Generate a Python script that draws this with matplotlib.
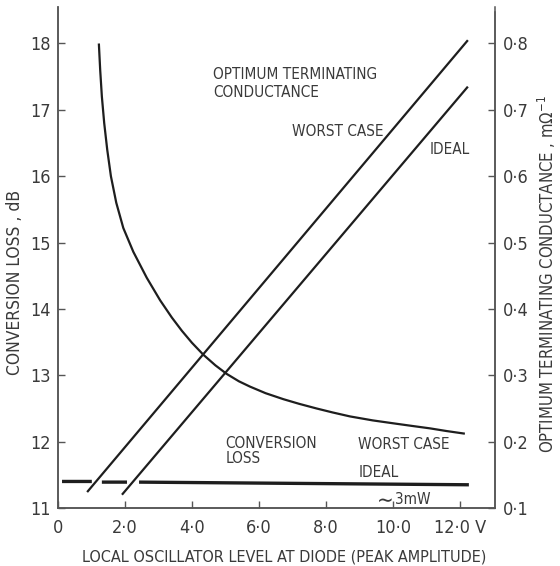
import matplotlib
matplotlib.use("Agg")
import matplotlib.pyplot as plt
import numpy as np

# conversion loss, worst case (dB) vs LO level (V)
cl_worst_x = [1.22, 1.26, 1.31, 1.38, 1.47, 1.58, 1.74, 1.95, 2.25, 2.65, 3.05, 3.40,
              3.70, 4.00, 4.34, 4.70, 5.04, 5.40, 5.73, 6.20, 6.73, 7.20, 7.72, 8.20,
              8.72, 9.40, 10.10, 10.60, 11.11, 11.60, 12.15]
cl_worst = [18.00, 17.60, 17.20, 16.80, 16.40, 16.00, 15.60, 15.22, 14.86, 14.47, 14.13, 13.87,
            13.67, 13.49, 13.31, 13.15, 13.02, 12.91, 12.83, 12.73, 12.64, 12.57, 12.50, 12.44,
            12.38, 12.32, 12.27, 12.235, 12.20, 12.16, 12.12]

# conversion loss, ideal (broken where the conductance lines cross it)
cl_ideal_x = [0.12, 1.01, np.nan, 1.31, 2.06, np.nan, 2.42, 12.27]
cl_ideal = [11.40, 11.40, np.nan, 11.39, 11.39, np.nan, 11.39, 11.35]

# optimum terminating conductance (mS)
g_worst_x = [0.87, 12.24]
g_worst = [0.124, 0.805]
g_ideal_x = [1.91, 12.24]
g_ideal = [0.120, 0.735]

x_ticks = [0, 2, 4, 6, 8, 10, 12]
x_labels = ["0", "2·0", "4·0", "6·0", "8·0", "10·0", "12·0 V"]
left_ticks = [11, 12, 13, 14, 15, 16, 17, 18]
right_ticks = [0.1, 0.2, 0.3, 0.4, 0.5, 0.6, 0.7, 0.8]
right_labels = ["0·1", "0·2", "0·3", "0·4", "0·5", "0·6", "0·7", "0·8"]

plt.rcParams['font.family'] = ['DejaVu Sans']
plt.rcParams['font.stretch'] = 'condensed'
ink = '#1e1e1e'
txt = '#3a3a3a'

fig = plt.figure(figsize=(5.6, 5.66), dpi=100)
W, H = 560, 566
AW, AH = 437, 501
ax = fig.add_axes([58 / W, (H - 508) / H, AW / W, AH / H])
ax2 = ax.twinx()

ax.plot(cl_worst_x, cl_worst, color=ink, lw=1.6, solid_capstyle='butt')
ax.plot(cl_ideal_x, cl_ideal, color=ink, lw=2.4, solid_capstyle='butt')
ax2.plot(g_worst_x, g_worst, color=ink, lw=1.6, solid_capstyle='butt')
ax2.plot(g_ideal_x, g_ideal, color=ink, lw=1.6, solid_capstyle='butt')

ax.set_xlim(0, 13.05)
ax.set_ylim(11, 18.55)
ax2.set_ylim(0.1, 0.855)

ax.set_xticks(x_ticks)
ax.set_xticklabels(x_labels)
ax.set_yticks(left_ticks)
ax.set_yticklabels([str(v) for v in left_ticks])
ax2.set_yticks(right_ticks)
ax2.set_yticklabels(right_labels)

for a in (ax, ax2):
    a.spines['top'].set_visible(False)
    for s in a.spines.values():
        s.set_color('#555')
        s.set_linewidth(1.1)
    a.tick_params(direction='in', length=5, width=1, color='#555',
                  labelsize=13, labelcolor=txt)
ax2.spines['right'].set_bounds(0.1, 0.848)
ax.tick_params(axis='y', pad=5)
ax.tick_params(axis='x', pad=8)
ax2.tick_params(axis='y', pad=6)

fs = 11
ax.text(4.63, 17.40, "OPTIMUM TERMINATING\nCONDUCTANCE", fontsize=fs, color=txt,
        va='center', ha='left', linespacing=1.25)
ax.text(7.0, 16.67, "WORST CASE", fontsize=fs, color=txt, va='center')
ax.text(11.11, 16.40, "IDEAL", fontsize=fs, color=txt, va='center')
ax.text(5.0, 11.86, "CONVERSION\nLOSS", fontsize=fs, color=txt, va='center',
        linespacing=1.0)
ax.text(8.95, 11.95, "WORST CASE", fontsize=fs, color=txt, va='center')
ax.text(8.98, 11.53, "IDEAL", fontsize=fs, color=txt, va='center')
ax.text(9.52, 11.10, "∼", fontsize=16, color=txt, va='center')
ax.text(10.05, 11.13, "3mW", fontsize=fs, color=txt, va='center')

ax.set_ylabel("CONVERSION LOSS , dB", fontsize=12.5, color=txt)
ax.yaxis.set_label_coords(-(58 - 24) / AW, (508 - 282) / AH)
ax2.set_ylabel("OPTIMUM TERMINATING CONDUCTANCE , m$\\Omega^{-1}$", fontsize=12,
               color=txt, rotation=90)
ax2.yaxis.set_label_coords((536 - 58) / AW, (508 - 274) / AH)
ax.set_xlabel("LOCAL OSCILLATOR LEVEL AT DIODE (PEAK AMPLITUDE)", fontsize=11.6,
              color=txt)
ax.xaxis.set_label_coords((284 - 58) / AW, -(549 - 508) / AH)

fig.savefig("out.png", dpi=100, facecolor='white')
